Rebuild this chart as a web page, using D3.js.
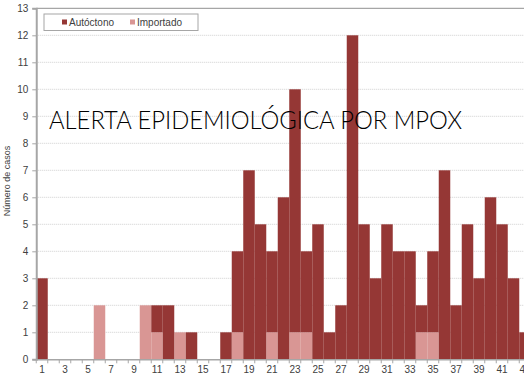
<!DOCTYPE html>
<html>
<head>
<meta charset="utf-8">
<script src="https://cdnjs.cloudflare.com/ajax/libs/d3/7.8.5/d3.min.js"></script>
<style>
  body { margin: 0; background: #fff; overflow: hidden; }
  svg { display: block; }
</style>
</head>
<body>
<script>
var width = 524;
var height = 378;

// semana epidemiológica
var weeks = d3.range(1, 45);
var autoctono = [3,0,0,0,0,0,0,0,0,0, 1,2,0,1,0,0,1,3,7,5, 3,6,9,3,5,1,2,12,5,3, 5,4,4,1,3,7,2,5,3,6, 5,3,1,0];
var importado = [0,0,0,0,0,2,0,0,0,2, 1,0,1,0,0,0,0,1,0,0, 1,0,1,1,0,0,0,0,0,0, 0,0,0,1,1,0,0,0,0,0, 0,0,0,0];
var yTicks = d3.range(0, 14);
var seriesNames = ['Autóctono', 'Importado'];
var colors = { 'Autóctono': '#953735', 'Importado': '#d99694' };

var plotLeft = 36.25, plotBottom = 359.3, plotTop = 8.3;
var band = 11.5;

var svg = d3.select('body').append('svg')
    .attr('width', width)
    .attr('height', height)
    .style('font-family', 'Liberation Sans, Arial, sans-serif');

var x = d3.scaleBand()
    .domain(weeks)
    .range([plotLeft, plotLeft + band * weeks.length])
    .padding(0);

var y = d3.scaleLinear()
    .domain([0, 13])
    .range([plotBottom, plotTop]);

// gridlines
svg.append('g').selectAll('line')
    .data(yTicks.slice(1, 13))
    .enter().append('line')
    .attr('x1', plotLeft).attr('x2', width)
    .attr('y1', function(d) { return y(d); })
    .attr('y2', function(d) { return y(d); })
    .attr('stroke', '#cfcfcf')
    .attr('stroke-width', 1)
    .attr('stroke-dasharray', '1,1');

// top border
svg.append('line')
    .attr('x1', plotLeft).attr('x2', width)
    .attr('y1', y(13)).attr('y2', y(13))
    .attr('stroke', '#a6a6a6').attr('stroke-width', 1.2);

// stacked data
var table = weeks.map(function(w, i) {
    return { week: w, 'Importado': importado[i], 'Autóctono': autoctono[i] };
});
var stack = d3.stack().keys(['Importado', 'Autóctono']);
var layers = stack(table);

svg.append('g').selectAll('g')
    .data(layers)
    .enter().append('g')
    .attr('fill', function(d) { return colors[d.key]; })
    .selectAll('rect')
    .data(function(d) { return d; })
    .enter().append('rect')
    .attr('x', function(d) { return x(d.data.week); })
    .attr('width', x.bandwidth())
    .attr('y', function(d) { return y(d[1]); })
    .attr('height', function(d) { return y(d[0]) - y(d[1]); });

// y axis
var yAxis = svg.append('g')
    .attr('transform', 'translate(' + plotLeft + ',0)')
    .call(d3.axisLeft(y).tickValues(yTicks).tickSize(4).tickPadding(4));
yAxis.select('.domain').attr('stroke', '#a6a6a6').attr('stroke-width', 2);
yAxis.selectAll('.tick line').attr('stroke', '#a6a6a6');
yAxis.selectAll('.tick text').attr('fill', '#404040').style('font-size', '10px');

// x axis
var xAxis = svg.append('g')
    .attr('transform', 'translate(0,' + plotBottom + ')')
    .call(d3.axisBottom(x)
        .tickValues(weeks.filter(function(w) { return w % 2 === 1; }))
        .tickSize(0).tickPadding(7));
xAxis.select('.domain').attr('stroke', '#a6a6a6').attr('stroke-width', 1.5);
xAxis.selectAll('.tick text').attr('fill', '#404040').style('font-size', '10px');

// ticks between bars
svg.append('g').selectAll('line')
    .data(weeks)
    .enter().append('line')
    .attr('x1', function(d) { return x(d); })
    .attr('x2', function(d) { return x(d); })
    .attr('y1', plotBottom).attr('y2', plotBottom + 4)
    .attr('stroke', '#a6a6a6');

// y title
svg.append('text')
    .attr('transform', 'translate(10,181) rotate(-90)')
    .attr('text-anchor', 'middle')
    .attr('fill', '#404040')
    .style('font-size', '9px')
    .text('Número de casos');

// legend
var legend = svg.append('g');
legend.append('rect')
    .attr('x', 44).attr('y', 14).attr('width', 154).attr('height', 16.5)
    .attr('fill', '#fff').attr('stroke', '#a6a6a6');
var legendX = [62, 130];
seriesNames.forEach(function(name, i) {
    legend.append('rect')
        .attr('x', legendX[i]).attr('y', 19.5)
        .attr('width', 5).attr('height', 5)
        .attr('fill', colors[name]);
    legend.append('text')
        .attr('x', legendX[i] + 7).attr('y', 26)
        .attr('fill', '#404040')
        .style('font-size', '10px')
        .text(name);
});

// overlay title
svg.append('text')
    .attr('x', 49).attr('y', 128.5)
    .attr('textLength', 413)
    .attr('lengthAdjust', 'spacingAndGlyphs')
    .style('font-family', 'Lato, sans-serif')
    .style('font-weight', 300)
    .style('font-size', '26px')
    .attr('fill', '#000')
    .text('ALERTA EPIDEMIOLÓGICA POR MPOX');
</script>
</body>
</html>
